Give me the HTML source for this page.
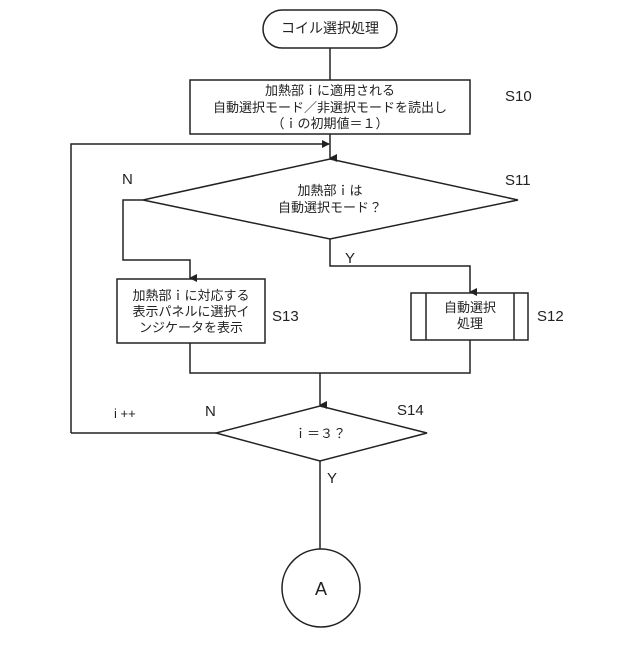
<!DOCTYPE html>
<html><head><meta charset="utf-8"><style>
body{margin:0;background:#fff}
svg text{font-family:"Liberation Sans","Noto Sans CJK JP",sans-serif;fill:#222}
</style></head><body>
<svg width="640" height="640" viewBox="0 0 640 640" xmlns="http://www.w3.org/2000/svg">
<defs><marker id="a" markerWidth="8" markerHeight="8" refX="4" refY="7" orient="auto" markerUnits="userSpaceOnUse"><path d="M0,0 L8,0 L4,8 z" fill="#222"/></marker>
<marker id="r" markerWidth="8" markerHeight="8" refX="7" refY="4" orient="auto" markerUnits="userSpaceOnUse"><path d="M0,0 L8,4 L0,8 z" fill="#222"/></marker></defs>
<g stroke="#222" stroke-width="1.5" fill="none">
<rect x="263" y="10" width="134" height="38" rx="19"/>
<line x1="330" y1="48" x2="330" y2="80"/>
<rect x="190" y="80" width="280" height="54"/>
<line x1="330" y1="134" x2="330" y2="158" marker-end="url(#a)"/>
<polyline points="71,433 71,144 329,144" marker-end="url(#r)"/>
<polygon points="330,159 518,200 330,239 143,200"/>
<polyline points="143,200 123,200 123,260 190,260 190,278" marker-end="url(#a)"/>
<rect x="117" y="279" width="148" height="64"/>
<polyline points="330,239 330,266 470,266 470,292" marker-end="url(#a)"/>
<rect x="411" y="293" width="117" height="47"/>
<line x1="426" y1="293" x2="426" y2="340"/><line x1="514" y1="293" x2="514" y2="340"/>
<polyline points="190,343 190,373 470,373 470,340"/>
<line x1="320" y1="373" x2="320" y2="405" marker-end="url(#a)"/>
<polygon points="320,406 427,433 320,461 216,433"/>
<line x1="216" y1="433" x2="71" y2="433"/>
<line x1="320" y1="461" x2="320" y2="549"/>
<circle cx="321" cy="588" r="39"/>
</g>
<g font-size="13" text-anchor="middle">
<text x="330" y="33" font-size="14">コイル選択処理</text>
<text x="330" y="95">加熱部ｉに適用される</text>
<text x="330" y="112">自動選択モード／非選択モードを読出し</text>
<text x="330" y="128">（ｉの初期値＝１）</text>
<text x="330" y="195">加熱部ｉは</text>
<text x="330" y="212">自動選択モード？</text>
<text x="191" y="300">加熱部ｉに対応する</text>
<text x="191" y="316">表示パネルに選択イ</text>
<text x="191" y="332">ンジケータを表示</text>
<text x="470" y="312">自動選択</text>
<text x="470" y="328">処理</text>
<text x="320" y="438">ｉ＝３？</text>
</g>
<g font-size="15">
<text x="505" y="101">S10</text>
<text x="505" y="185">S11</text>
<text x="272" y="321">S13</text>
<text x="537" y="321">S12</text>
<text x="397" y="415">S14</text>
<text x="122" y="184">N</text>
<text x="345" y="263">Y</text>
<text x="205" y="416">N</text>
<text x="327" y="483">Y</text>
<text x="114" y="418" font-size="13">i ++</text>
<text x="321" y="595" font-size="18" text-anchor="middle">A</text>
</g>
</svg>
</body></html>
